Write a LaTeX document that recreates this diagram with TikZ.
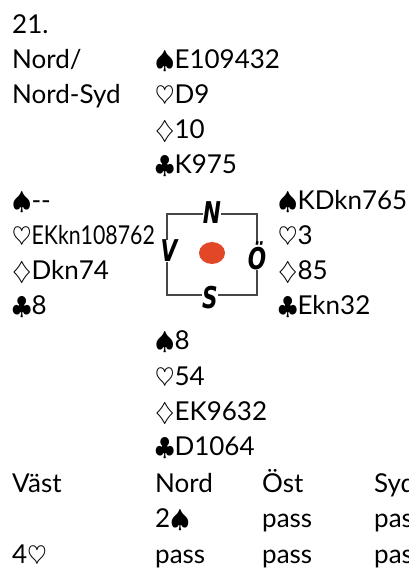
\documentclass[tikz,border=0pt]{standalone}
\usepackage{fontspec}
\setmainfont{Lato}
\newfontfamily\compassfont[FakeStretch=0.72]{DejaVu Sans}
\definecolor{dotred}{RGB}{226,72,40}
\definecolor{boxgray}{RGB}{70,70,70}

\begin{document}
\begin{tikzpicture}[x=1pt,y=-1pt,
    every node/.style={font=\fontsize{26}{30}\selectfont},
    hand/.style={anchor=base west, inner sep=0pt},
    seat/.style={font=\compassfont\bfseries\itshape\fontsize{30}{30}\selectfont, fill=white, inner sep=0pt}]
  \useasboundingbox (0,0) rectangle (409,568);
  % title and dealer / vulnerability
  \node[hand] (title) at (12,33) {21.};
  \node[hand] (dealer) at (12,68.2) {Nord/};
  \node[hand] (vuln) at (12,103.4) {Nord-Syd};
  % north
  \foreach \t [count=\i] in {$\spadesuit$E109432, $\heartsuit$D9, $\diamondsuit$10, $\clubsuit$K975}
    \node[hand] (north\i) at (155, {33+35.2*\i}) {\t};
  % west
  \foreach \t [count=\i] in {$\spadesuit${-}{-}, $\heartsuit$\scalebox{0.82}[1]{EKkn108762}, $\diamondsuit$Dkn74, $\clubsuit$8}
    \node[hand] (west\i) at (12, {33+35.2*(\i+4)}) {\t};
  % east
  \foreach \t [count=\i] in {$\spadesuit$KDkn765, $\heartsuit$3, $\diamondsuit$85, $\clubsuit$Ekn32}
    \node[hand] (east\i) at (278, {33+35.2*(\i+4)}) {\t};
  % south
  \foreach \t [count=\i] in {$\spadesuit$8, $\heartsuit$54, $\diamondsuit$EK9632, $\clubsuit$D1064}
    \node[hand] (south\i) at (155, {33+35.2*(\i+8)}) {\t};
  % compass
  \draw[boxgray, line width=2.2pt] (167,214) rectangle (257,295);
  \fill[dotred] (212,253) ellipse (13 and 11);
  \node[seat] (N) at (212,213) {N};
  \node[seat] (V) at (169,251) {V};
  \node[seat] (O) at (257,256) {Ö};
  \node[seat] (S) at (210,298) {S};
  % bidding
  \node[hand] (bw) at (12,492.6) {Väst};
  \node[hand] (bn) at (155,492.6) {Nord};
  \node[hand] (bo) at (262,492.6) {Öst};
  \node[hand] (bs) at (374,492.6) {Syd};
  \node[hand] (bn1) at (155,527.8) {2$\spadesuit$};
  \node[hand] (bo1) at (262,527.8) {pass};
  \node[hand] (bs1) at (374,527.8) {pass};
  \node[hand] (bw2) at (12,563) {4$\heartsuit$};
  \node[hand] (bn2) at (155,563) {pass};
  \node[hand] (bo2) at (262,563) {pass};
  \node[hand] (bs2) at (374,563) {pass};
\end{tikzpicture}
\end{document}
